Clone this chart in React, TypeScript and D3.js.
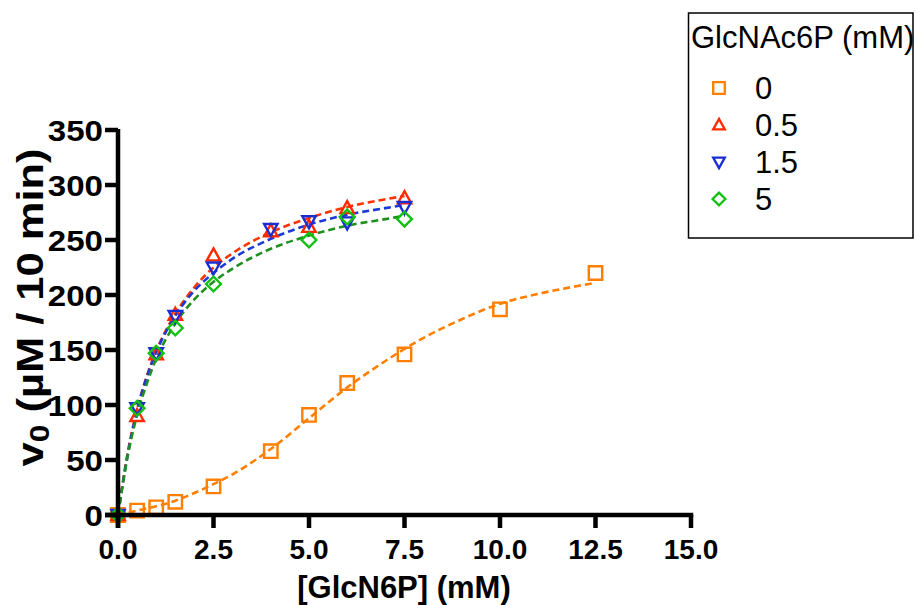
import React from "react";
import * as d3 from "d3";

// ---- data ----
const seriesNames = ["0", "0.5", "1.5", "5"];
const legendTitle = "GlcNAc6P (mM)";

// GlcNAc6P = 0 mM
const x0 = [0, 0.5, 1, 1.5, 2.5, 4, 5, 6, 7.5, 10, 12.5];
const y0 = [0, 4, 7, 12, 26, 58, 91, 120, 146, 187, 220];
// GlcNAc6P = 0.5 mM
const x05 = [0, 0.5, 1, 1.5, 2.5, 4, 5, 6, 7.5];
const y05 = [0, 90, 146, 182, 236, 258, 262, 279, 288];
// GlcNAc6P = 1.5 mM
const x15 = [0, 0.5, 1, 1.5, 2.5, 4, 5, 6, 7.5];
const y15 = [0, 97, 147, 181, 225, 260, 267, 266, 280];
// GlcNAc6P = 5 mM
const x5 = [0, 0.5, 1, 1.5, 2.5, 5, 6, 7.5];
const y5 = [0, 97, 147, 170, 210, 250, 271, 269];

// fitted curves
const fitX0 = [0, 0.5, 1, 1.5, 2, 2.5, 3, 4, 5, 6, 7, 7.5, 8, 9, 10, 11, 12, 12.5];
const fitY0 = [0, 4, 8, 13, 20, 28, 37, 60, 88, 116, 140, 151, 161, 178, 192, 201, 208, 211];
const fitXs = [0, 0.25, 0.5, 0.75, 1, 1.5, 2, 2.5, 3, 4, 5, 6, 7, 7.5];
const fitY05 = [0, 56, 96, 126, 149, 183, 207, 225, 238, 257, 270, 280, 287, 290];
const fitY15 = [0, 54, 95, 125, 148, 181, 204, 220, 233, 251, 264, 273, 279, 282];
const fitY5 = [0, 53, 91, 119, 142, 174, 196, 212, 224, 242, 254, 263, 269, 272];

const xTicks = [0, 2.5, 5, 7.5, 10, 12.5, 15];
const yTicks = [0, 50, 100, 150, 200, 250, 300, 350];

const markerColors = ["#ff7f00", "#ff2a00", "#1a2ed0", "#12c012"];
const lineColors = ["#ff7f00", "#ff3300", "#1a3ad8", "#1f8f1f"];
const shapes = ["square", "up", "down", "diamond"];

const FONT = "'Liberation Sans', Arial, Helvetica, sans-serif";

function markerPath(shape: string, r: number): string {
  switch (shape) {
    case "square":
      return `M${-r},${-r}H${r}V${r}H${-r}Z`;
    case "up":
      return `M0,${-r * 1.05}L${r},${r * 0.75}L${-r},${r * 0.75}Z`;
    case "down":
      return `M0,${r * 1.05}L${r},${-r * 0.75}L${-r},${-r * 0.75}Z`;
    default:
      return `M0,${-r * 1.1}L${r * 1.1},0L0,${r * 1.1}L${-r * 1.1},0Z`;
  }
}

export default function App() {
  const W = 917;
  const H = 605;
  const x = d3.scaleLinear().domain([0, 15]).range([118, 691]);
  const y = d3.scaleLinear().domain([0, 350]).range([515, 130]);

  const series = [
    { xs: x0, ys: y0, fx: fitX0, fy: fitY0 },
    { xs: x05, ys: y05, fx: fitXs, fy: fitY05 },
    { xs: x15, ys: y15, fx: fitXs, fy: fitY15 },
    { xs: x5, ys: y5, fx: fitXs, fy: fitY5 },
  ];

  const line = d3
    .line<[number, number]>()
    .x((d) => x(d[0]))
    .y((d) => y(d[1]))
    .curve(d3.curveMonotoneX);

  const fmt = d3.format(".1f");
  const axisW = 4.5;
  const tickLen = 13;

  return (
    <svg width={W} height={H} style={{ display: "block", position: "absolute", left: 0, top: 0 }} fontFamily={FONT}>
      <defs>
        <clipPath id="legclip">
          <rect x={688} y={12} width={225} height={227} />
        </clipPath>
      </defs>
      <rect width={W} height={H} fill="#fff" />

      {/* fitted curves */}
      {series.map((s, i) => (
        <path
          key={"fit" + i}
          d={line(s.fx.map((v, j) => [v, s.fy[j]] as [number, number])) || ""}
          fill="none"
          stroke={lineColors[i]}
          strokeWidth={2.6}
          strokeDasharray="7,4"
        />
      ))}

      {/* markers */}
      {series.map((s, i) =>
        s.xs.map((v, j) => (
          <path
            key={"m" + i + "-" + j}
            d={markerPath(shapes[i], 6.7)}
            transform={`translate(${x(v)},${y(s.ys[j])})`}
            fill="none"
            stroke={markerColors[i]}
            strokeWidth={2.4}
          />
        ))
      )}

      {/* axes */}
      <line x1={x(0)} x2={x(0)} y1={y(350) - 1} y2={y(0) + tickLen} stroke="#000" strokeWidth={axisW} />
      <line x1={x(0) - tickLen} x2={x(15) + axisW / 2} y1={y(0)} y2={y(0)} stroke="#000" strokeWidth={axisW} />
      {xTicks.map((t) => (
        <g key={"xt" + t}>
          <line x1={x(t)} x2={x(t)} y1={y(0)} y2={y(0) + tickLen} stroke="#000" strokeWidth={axisW} />
          <text x={x(t)} y={559} textAnchor="middle" fontSize={28} fontWeight="bold" fill="#000">
            {fmt(t)}
          </text>
        </g>
      ))}
      {yTicks.map((t) => (
        <g key={"yt" + t}>
          <line x1={x(0) - tickLen} x2={x(0)} y1={y(t)} y2={y(t)} stroke="#000" strokeWidth={axisW} />
          <text
            x={0}
            y={0}
            transform={`translate(103,${y(t) + 10.5}) scale(1.14,1)`}
            textAnchor="end"
            fontSize={29}
            fontWeight="bold"
            fill="#000"
          >
            {t}
          </text>
        </g>
      ))}

      {/* axis titles */}
      <text x={404} y={598} textAnchor="middle" fontSize={31} fontWeight="bold" fill="#000">
        [GlcN6P] (mM)
      </text>
      <text
        transform={`translate(43,${307.5}) rotate(-90)`}
        textAnchor="middle"
        fontSize={37}
        fontWeight="bold"
        fill="#000"
        textLength={318}
        lengthAdjust="spacingAndGlyphs"
      >
        v<tspan fontSize={27} dy={6}>0</tspan>
        <tspan dy={-6}> (µM / 10 min)</tspan>
      </text>

      {/* legend */}
      <rect x={688.5} y={13} width={224.5} height={225} fill="none" stroke="#000" strokeWidth={1.5} />
      <text x={691} y={48} fontSize={31} fill="#000" clipPath="url(#legclip)">
        {legendTitle}
      </text>
      {seriesNames.map((n, i) => {
        const cy = 88 + i * 37;
        return (
          <g key={"lg" + i}>
            <path
              d={markerPath(shapes[i], 5.8)}
              transform={`translate(719,${cy})`}
              fill="none"
              stroke={markerColors[i]}
              strokeWidth={2.3}
            />
            <text x={755} y={cy + 11} fontSize={31} fill="#000">
              {n}
            </text>
          </g>
        );
      })}
    </svg>
  );
}
